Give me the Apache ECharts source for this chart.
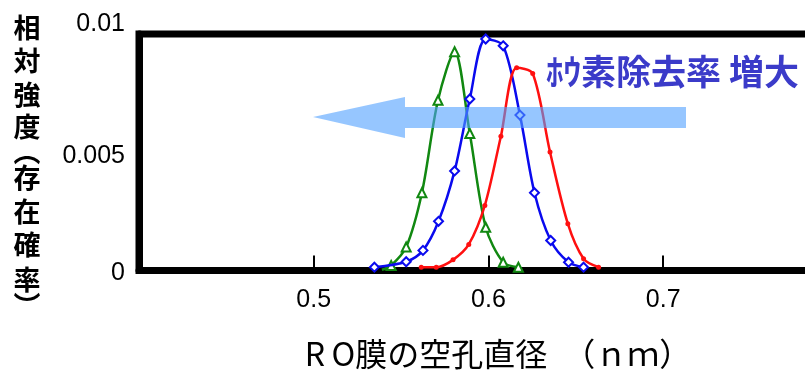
<!DOCTYPE html>
<html>
<head>
<meta charset="utf-8">
<script src="https://cdn.jsdelivr.net/npm/echarts@6/dist/echarts.min.js"></script>
<style>html,body{margin:0;padding:0;background:#fff}#c{width:805px;height:374px}</style>
</head>
<body>
<div id="c"></div>
<script>
// Data
const xTicks = [0.4, 0.5, 0.6, 0.7, 0.8];
const yTicks = [0, 0.005, 0.01];
const greenX = [0.539, 0.5443, 0.5529, 0.5619, 0.5711, 0.5806, 0.5893, 0.5984, 0.6084, 0.6171];
const greenY = [0.00003, 0.00021, 0.00099, 0.00329, 0.0072, 0.00925, 0.00579, 0.00183, 0.00035, 0.00014];
const greenMarked = [false, true, true, true, true, true, true, true, true, true];
const blueX = [0.5347, 0.5529, 0.5625, 0.5714, 0.5806, 0.5893, 0.5984, 0.6084, 0.618, 0.6263, 0.6356, 0.6458, 0.6544];
const blueY = [0.00014, 0.00037, 0.00085, 0.00208, 0.00421, 0.00725, 0.00979, 0.0095, 0.00657, 0.00329, 0.00127, 0.00035, 0.00014];
const redX = [0.5615, 0.5701, 0.5797, 0.5887, 0.5979, 0.6071, 0.6161, 0.6253, 0.6352, 0.6454, 0.6544, 0.663];
const redY = [0.00014, 0.00014, 0.00045, 0.0011, 0.00275, 0.00568, 0.00857, 0.00833, 0.00501, 0.00198, 0.0005, 0.00014];
const yNameChars = ['相', '対', '強', '度', '︵', '存', '在', '確', '率', '︶'];
const xName = 'R\u2009O膜の空孔直径　（ｎｍ）';
const arrowText = 'ﾎｳ素除去率 増大';

const chart = echarts.init(document.getElementById('c'));
function pts(xs, ys, marked) {
  return xs.map((x, i) => {
    const d = { value: [x, ys[i]] };
    if (marked && !marked[i]) d.symbol = 'none';
    return d;
  });
}
const yNamePos = [28, 61, 95, 127, 152, 178, 212, 245, 280, 306];
const graphics = [];
yNameChars.forEach((ch, i) => {
  graphics.push({
    type: 'text', z: 10,
    style: { text: ch, x: 27, y: yNamePos[i], fill: '#000',
      font: 'bold 27px "Noto Sans CJK JP"', textAlign: 'center', textVerticalAlign: 'middle' }
  });
});
graphics.push({
  type: 'text', z: 10,
  style: { text: xName, x: 498, y: 354, fill: '#000',
    font: '32px "Noto Sans CJK JP"', textAlign: 'center', textVerticalAlign: 'middle' }
});
graphics.push({
  type: 'polygon', z: 20,
  shape: { points: [[313,117],[405,97],[405,107],[686,107],[686,128],[405,128],[405,138]] },
  style: { fill: 'rgb(80,160,255)', opacity: 0.6 }
});
graphics.push({
  type: 'text', z: 21,
  style: { text: arrowText, x: 546, y: 72, fill: '#3b3bc9',
    font: 'bold 35px "Noto Sans CJK JP"', textAlign: 'left', textVerticalAlign: 'middle' }
});

chart.setOption({
  animation: false,
  backgroundColor: '#fff',
  grid: { left: 139, right: -33, top: 34, bottom: 103.5, containLabel: false, outerBoundsMode: 'none',
    show: true, borderColor: '#000', borderWidth: 7, backgroundColor: 'transparent' },
  xAxis: {
    type: 'value', min: xTicks[0], max: xTicks[xTicks.length - 1], interval: 0.1,
    axisLine: { lineStyle: { color: '#000', width: 7 } },
    axisTick: { show: true, inside: true, length: 15, lineStyle: { color: '#000', width: 2 } },
    splitLine: { show: false },
    axisLabel: {
      margin: 17, color: '#000', fontSize: 25, fontFamily: '"Liberation Sans", Arial',
      formatter: v => (Math.abs(v - 0.4) < 1e-9 || Math.abs(v - 0.8) < 1e-9) ? '' : v.toFixed(1)
    }
  },
  yAxis: {
    type: 'value', min: yTicks[0], max: yTicks[yTicks.length - 1], interval: 0.005,
    axisLine: { show: true, lineStyle: { color: '#000', width: 7 } },
    axisTick: { show: false },
    splitLine: { show: false },
    axisLabel: {
      margin: 14, color: '#000', fontSize: 25, fontFamily: '"Liberation Sans", Arial',
      formatter: v => {
        if (Math.abs(v - 0.01) < 1e-9) return '{t|0.01}';
        if (Math.abs(v - 0.005) < 1e-9) return '{m|0.005}';
        return '{b|0}';
      },
      rich: {
        t: { fontSize: 25, fontFamily: '"Liberation Sans", Arial', color: '#000', padding: [0, 0, 20, 0] },
        m: { fontSize: 25, fontFamily: '"Liberation Sans", Arial', color: '#000', padding: [8, 0, 0, 0] },
        b: { fontSize: 25, fontFamily: '"Liberation Sans", Arial', color: '#000', padding: [6, 0, 0, 0] }
      }
    }
  },
  series: [
    { type: 'line', data: pts(greenX, greenY, greenMarked), smooth: 0.3, symbol: 'emptyTriangle', symbolSize: 9,
      lineStyle: { color: '#118811', width: 2.5 }, itemStyle: { color: '#118811', borderWidth: 2 }, z: 3 },
    { type: 'line', data: pts(blueX, blueY), smooth: 0.3, symbol: 'emptyDiamond', symbolSize: 9,
      lineStyle: { color: '#0a0aee', width: 2.5 }, itemStyle: { color: '#0a0aee', borderWidth: 2 }, z: 4 },
    { type: 'line', data: pts(redX, redY), smooth: 0.3, symbol: 'circle', symbolSize: 5,
      lineStyle: { color: '#ff1010', width: 2.5 }, itemStyle: { color: '#ff1010' }, z: 5 }
  ],
  graphic: graphics
});
</script>
</body>
</html>
